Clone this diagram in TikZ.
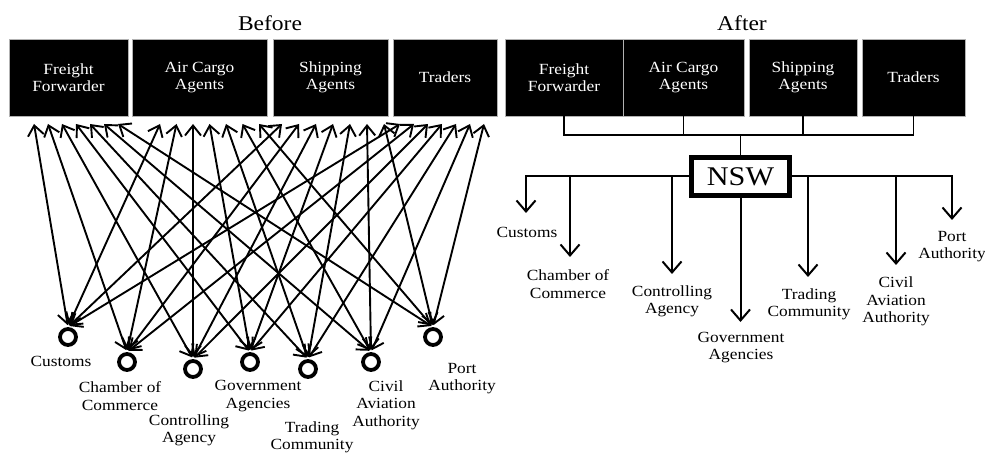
\documentclass[tikz,border=0pt]{standalone}
\usepackage{fontspec}
\setmainfont[FakeStretch=1.12]{Liberation Serif}
\usetikzlibrary{arrows.meta}
\begin{document}
\begin{tikzpicture}[x=1pt,y=-1pt,
  box/.style={fill=black, draw=gray!60, line width=0.6pt, text=white,
    minimum width=#1, minimum height=77pt, inner sep=0pt, align=center,
    font=\fontsize{15.5}{16.5}\selectfont},
  ttl/.style={font=\fontsize{21}{23}\selectfont, inner sep=0pt},
  lbl/.style={font=\fontsize{15.5}{17.5}\selectfont, align=center, inner sep=0pt},
  ring/.style={circle, draw=black, line width=3.8pt, minimum size=16pt, inner sep=0pt},
  barr/.style={line width=1.9pt, shorten >=2pt,
    {Straight Barb[length=10pt,width=16pt]}-{Straight Barb[length=10pt,width=16pt]}},
  aline/.style={line width=1.6pt},
  aarr/.style={line width=2pt, -{Straight Barb[length=11pt,width=19pt]}},
  nswbox/.style={draw=black, fill=white, line width=4.5pt, minimum width=98pt,
    minimum height=38pt, inner sep=0pt, font=\fontsize{27}{29}\selectfont}]
\useasboundingbox (0,0) rectangle (985,454);

% ---------------- Before ----------------
\node[ttl] (tb) at (270,23) {Before};
\node[box=119pt] (b1) at (68.5,77.5) {Freight\\Forwarder};
\node[box=135pt] (b2) at (199.5,77.5) {Air Cargo\\Agents};
\node[box=115pt] (b3) at (330.5,77.5) {Shipping\\Agents};
\node[box=104pt] (b4) at (445,77.5) {Traders};

\node[ring] (c1) at (68,337) {};
\node[ring] (c2) at (127,362) {};
\node[ring] (c3) at (193,369) {};
\node[ring] (c4) at (250,362) {};
\node[ring] (c5) at (308,369) {};
\node[ring] (c6) at (371,362) {};
\node[ring] (c7) at (433,337) {};

\foreach \j in {1,...,7} {
  \coordinate (t1-\j) at ({34+(\j-1)*14},124);
  \coordinate (t2-\j) at ({160+(\j-1)*16.5},124);
  \coordinate (t3-\j) at ({282+(\j-1)*17},124);
  \coordinate (t4-\j) at ({400+(\j-1)*14},124);
}
\foreach \i in {1,...,4} {
  \foreach \j in {1,...,7} {
    \draw[barr] (t\i-\j) -- (c\j.north);
  }
}

\node[lbl] (l1) at (61,361) {Customs};
\node[lbl] (l2) at (120,396) {Chamber of\\Commerce};
\node[lbl] (l3) at (189,430.5) {Controlling\\Agency};
\node[lbl] (l4) at (258,396) {Government\\Agencies};
\node[lbl] (l5) at (312,437.5) {Trading\\Community};
\node[lbl] (l6) at (386,405) {Civil\\Aviation\\Authority};
\node[lbl] (l7) at (462,378.5) {Port\\Authority};

% ---------------- After ----------------
\node[ttl] (ta) at (742,23) {After};
\node[box=118pt] (a1) at (564,77.5) {Freight\\Forwarder};
\node[box=121pt] (a2) at (683.5,77.5) {Air Cargo\\Agents};
\node[box=108pt] (a3) at (803,77.5) {Shipping\\Agents};
\node[box=103pt] (a4) at (913.5,77.5) {Traders};

\node[nswbox] (nsw) at (740.5,176.5) {NSW};
\coordinate (bus) at (564,135);

\draw[aline] (a1.south) |- (a4.south |- bus) -- (a4.south);
\draw[aline] (a2.south) -- (a2.south |- bus);
\draw[aline] (a3.south) -- (a3.south |- bus);
\draw[aline] (nsw.north |- bus) -- (nsw.north);

\coordinate (e1) at (526,213);
\coordinate (e2) at (570,257);
\coordinate (e3) at (672,274);
\coordinate (e4) at (740.5,322);
\coordinate (e5) at (808,277);
\coordinate (e6) at (896,265);
\coordinate (e7) at (952,220);

\draw[aarr] (nsw.west) -| (e1);
\draw[aarr] (nsw.east) -| (e7);
\draw[aarr] (e2 |- nsw.west) -- (e2);
\draw[aarr] (e3 |- nsw.west) -- (e3);
\draw[aarr] (nsw.south) -- (e4);
\draw[aarr] (e5 |- nsw.east) -- (e5);
\draw[aarr] (e6 |- nsw.east) -- (e6);

\node[lbl] (m1) at (527,232) {Customs};
\node[lbl] (m2) at (568,284) {Chamber of\\Commerce};
\node[lbl] (m3) at (672,301.5) {Controlling\\Agency};
\node[lbl] (m4) at (741,347.5) {Government\\Agencies};
\node[lbl] (m5) at (809,304.5) {Trading\\Community};
\node[lbl] (m6) at (896,301.5) {Civil\\Aviation\\Authority};
\node[lbl] (m7) at (952,246.5) {Port\\Authority};
\end{tikzpicture}
\end{document}
